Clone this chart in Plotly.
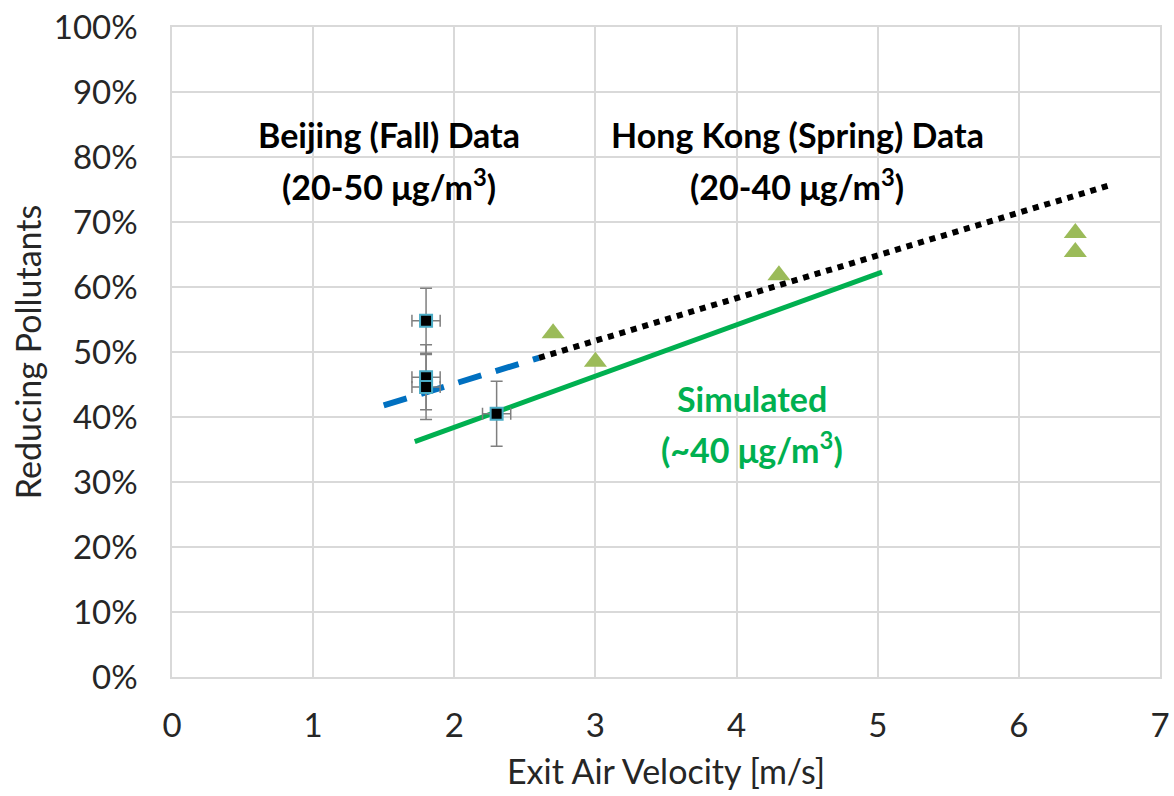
import plotly.graph_objects as go

# Beijing (Fall) measured data
bj_x = [1.8, 1.8, 1.8, 2.3]
bj_y = [0.548, 0.461, 0.446, 0.405]
bj_yerr = [0.05, 0.05, 0.05, 0.05]
bj_xerr = [0.1, 0.1, 0.1, 0.1]

# Hong Kong (Spring) measured data
hk_x = [2.7, 3.0, 4.3, 6.4, 6.4]
hk_y = [0.529, 0.485, 0.618, 0.683, 0.654]

# Trend lines (end points)
bj_trend_x = [1.5, 2.6]
bj_trend_y = [0.418, 0.491]
hk_trend_x = [2.6, 6.65]
hk_trend_y = [0.491, 0.757]
sim_x = [1.72, 5.03]
sim_y = [0.362, 0.623]

x_ticks = [0, 1, 2, 3, 4, 5, 6, 7]
y_ticks = [i / 10 for i in range(11)]

FONT = "Lato"
fig = go.Figure()

fig.add_trace(go.Scatter(x=sim_x, y=sim_y, mode="lines",
                         line=dict(color="#00B050", width=5), showlegend=False))
fig.add_trace(go.Scatter(x=bj_trend_x, y=bj_trend_y, mode="lines",
                         line=dict(color="#0070C0", width=6, dash="24px,15px"), showlegend=False))
fig.add_trace(go.Scatter(x=hk_trend_x, y=hk_trend_y, mode="lines",
                         line=dict(color="black", width=6, dash="dot"), showlegend=False))
fig.add_trace(go.Scatter(x=hk_x, y=hk_y, mode="markers",
                         marker=dict(symbol="triangle-up", size=20, color="#9BBB59"),
                         showlegend=False))
fig.add_trace(go.Scatter(x=bj_x, y=bj_y, mode="markers",
                         marker=dict(symbol="square", size=12, color="black",
                                     line=dict(color="#4BACC6", width=2)),
                         error_y=dict(type="data", array=bj_yerr, color="#7F7F7F", thickness=1.5, width=6),
                         error_x=dict(type="data", array=bj_xerr, color="#7F7F7F", thickness=1.5, width=6),
                         showlegend=False))

ann_font = dict(family=FONT, size=34, color="black")
fig.add_annotation(x=1.54, y=0.834, text="<b>Beijing (Fall) Data</b>", showarrow=False, font=ann_font)
fig.add_annotation(x=1.54, y=0.757, text="<b>(20-50 μg/m<sup>3</sup>)</b>", showarrow=False, font=ann_font)
fig.add_annotation(x=4.43, y=0.834, text="<b>Hong Kong (Spring) Data</b>", showarrow=False, font=ann_font)
fig.add_annotation(x=4.43, y=0.757, text="<b>(20-40 μg/m<sup>3</sup>)</b>", showarrow=False, font=ann_font)
sim_font = dict(family=FONT, size=34, color="#00B050")
fig.add_annotation(x=4.11, y=0.429, text="<b>Simulated</b>", showarrow=False, font=sim_font)
fig.add_annotation(x=4.11, y=0.353, text="<b>(~40 μg/m<sup>3</sup>)</b>", showarrow=False, font=sim_font)

fig.update_layout(
    width=1174, height=796,
    margin=dict(l=172, r=14, t=27, b=119),
    paper_bgcolor="white", plot_bgcolor="white",
    font=dict(family=FONT, size=33, color="#262626"),
)
fig.update_xaxes(range=[0, 7], tickvals=x_ticks, showgrid=True, gridcolor="#D9D9D9", gridwidth=1.5,
                 zeroline=False, showline=True, linecolor="#D9D9D9", linewidth=1.5, mirror=True,
                 ticklabelstandoff=19, automargin=False, ticklabeloverflow="allow",
                 title=dict(text="Exit Air Velocity [m/s]", standoff=17, font=dict(size=34)),
                 tickfont=dict(size=33))
fig.update_yaxes(range=[0, 1], tickvals=y_ticks, tickformat=".0%", showgrid=True, gridcolor="#D9D9D9",
                 gridwidth=1.5, zeroline=False, showline=True, linecolor="#D9D9D9", linewidth=1.5, mirror=True,
                 ticklabelstandoff=26, automargin=False, ticklabeloverflow="allow",
                 title=dict(text="Reducing Pollutants", standoff=2, font=dict(size=34)),
                 tickfont=dict(size=33))

fig.write_html("out.html", config={"displayModeBar": False},
               post_script="document.body.style.margin='0';")
